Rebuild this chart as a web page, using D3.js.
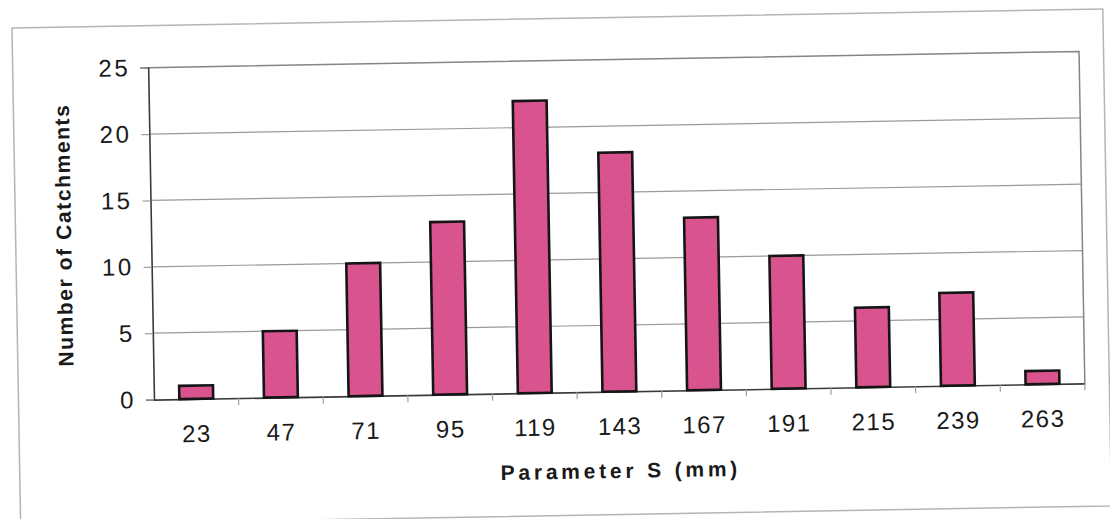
<!DOCTYPE html>
<html>
<head>
<meta charset="utf-8">
<script src="https://cdn.jsdelivr.net/npm/d3@7"></script>
<style>
  html, body { margin: 0; padding: 0; background: #fff; }
  svg { display: block; }
  text { font-family: "Liberation Sans", Arial, Helvetica, sans-serif; fill: #1a1a1a; }
</style>
</head>
<body>
<svg id="chart" width="1110" height="519"></svg>
<script>
// Histogram of parameter S across catchments
const categories = ["23", "47", "71", "95", "119", "143", "167", "191", "215", "239", "263"];
const counts = [1, 5, 10, 13, 22, 18, 13, 10, 6, 7, 1];
const yTicks = [0, 5, 10, 15, 20, 25];
const xTitle = "Parameter S (mm)";
const yTitle = "Number of Catchments";

const W = 1110, H = 519;
const plot = { x0: 151, x1: 1082, y0: 59.5, y1: 391.5 };
const frame = { x0: 15.5, x1: 1106.5, y0: 17.5, y1: 514.5 };
const cx = (plot.x0 + plot.x1) / 2, cy = (plot.y0 + plot.y1) / 2;

const svg = d3.select("#chart");
svg.append("rect").attr("width", W).attr("height", H).attr("fill", "#fff");

// the printed page sits slightly tilted
const g = svg.append("g").attr("transform", `rotate(-1, ${cx}, ${cy})`);

// outer chart border
g.append("rect")
  .attr("x", frame.x0).attr("y", frame.y0)
  .attr("width", frame.x1 - frame.x0).attr("height", frame.y1 - frame.y0)
  .attr("fill", "none").attr("stroke", "#b5b5b5").attr("stroke-width", 1.5);

const x = d3.scaleBand().domain(categories).range([plot.x0, plot.x1]).paddingInner(0.6).paddingOuter(0.3);
const xb = d3.scaleBand().domain(categories).range([plot.x0, plot.x1]);
const y = d3.scaleLinear().domain([0, 25]).range([plot.y1, plot.y0]);

// gridlines
g.append("g").selectAll("line").data(yTicks.filter(t => t > 0 && t < 25)).join("line")
  .attr("x1", plot.x0).attr("x2", plot.x1)
  .attr("y1", d => y(d)).attr("y2", d => y(d))
  .attr("stroke", "#9a9a9a").attr("stroke-width", 1.2);

// plot border (top and right)
g.append("path")
  .attr("d", `M${plot.x0},${plot.y0}H${plot.x1}V${plot.y1}`)
  .attr("fill", "none").attr("stroke", "#858585").attr("stroke-width", 1.5);

// y axis
const yAxis = d3.axisLeft(y).tickValues(yTicks).tickSize(8).tickPadding(10).tickFormat(d3.format("d"));
const ya = g.append("g").attr("transform", `translate(${plot.x0},0)`).call(yAxis);
ya.select(".domain").attr("stroke", "#3a3a3a").attr("stroke-width", 1.6);
ya.selectAll(".tick line").attr("stroke", "#a0a0a0").attr("stroke-width", 1.2);
ya.selectAll(".tick text").attr("font-size", 24).attr("letter-spacing", 2.5).attr("fill", "#1a1a1a")
  .attr("font-family", "'Liberation Sans', Arial, sans-serif");

// x axis: ticks sit between categories
const xAxis = d3.axisBottom(xb).tickSize(0).tickPadding(26);
const xa = g.append("g").attr("transform", `translate(0,${plot.y1})`).call(xAxis);
xa.select(".domain").attr("stroke", "#3a3a3a").attr("stroke-width", 1.6);
xa.selectAll(".tick text").attr("font-size", 24).attr("letter-spacing", 1.5).attr("fill", "#1a1a1a")
  .attr("font-family", "'Liberation Sans', Arial, sans-serif");
g.append("g").selectAll("line").data(categories.slice(1).concat(["end"])).join("line")
  .attr("x1", (d, i) => plot.x0 + (i + 1) * xb.bandwidth())
  .attr("x2", (d, i) => plot.x0 + (i + 1) * xb.bandwidth())
  .attr("y1", plot.y1).attr("y2", plot.y1 + 7)
  .attr("stroke", "#a0a0a0").attr("stroke-width", 1.2);

// bars
g.append("g").selectAll("rect").data(counts).join("rect")
  .attr("x", (d, i) => x(categories[i]))
  .attr("width", x.bandwidth())
  .attr("y", d => y(d))
  .attr("height", d => y(0) - y(d))
  .attr("fill", "#d9548f")
  .attr("stroke", "#151515").attr("stroke-width", 2.6);

// axis titles
g.append("text")
  .attr("x", cx).attr("y", 478)
  .attr("text-anchor", "middle")
  .attr("font-size", 21).attr("font-weight", "bold").attr("letter-spacing", 3.8)
  .text(xTitle);

g.append("text")
  .attr("transform", `translate(71,${cy}) rotate(-90)`)
  .attr("text-anchor", "middle")
  .attr("font-size", 21).attr("font-weight", "bold").attr("letter-spacing", 1.6)
  .text(yTitle);
</script>
</body>
</html>
